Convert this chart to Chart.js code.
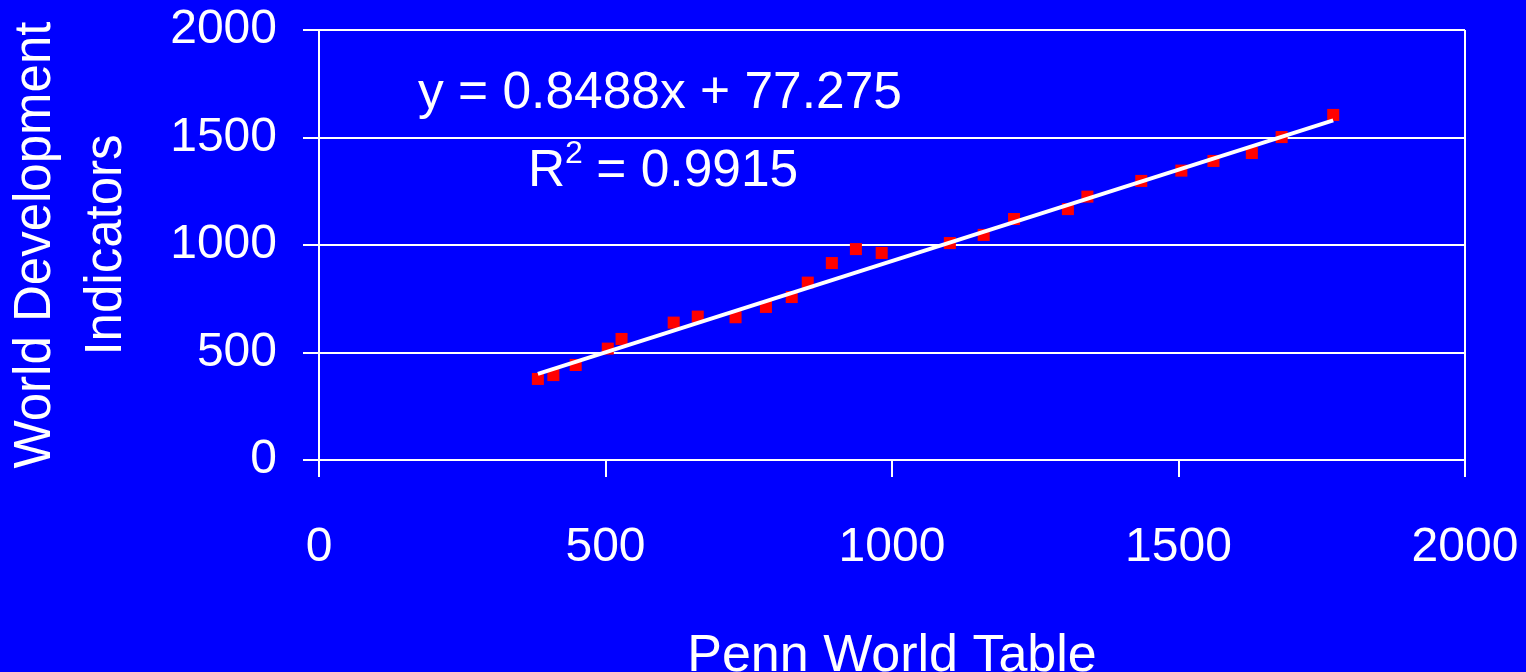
<!DOCTYPE html>
<html>
<head>
<meta charset="utf-8">
<title>Penn World Table vs World Development Indicators</title>
<script src="https://cdn.jsdelivr.net/npm/chart.js@4.4.1/dist/chart.umd.min.js"></script>
<style>
    body { margin: 0; background: #0000ff; }
    canvas { display: block; }
</style>
</head>
<body>
<canvas id="scatterChart" width="1526" height="672"></canvas>
<script>
// Data
const pwtValues = [382, 409, 448, 504, 528, 619, 661, 727, 780, 825, 853, 895, 937, 982,
    1101, 1160, 1213, 1307, 1341, 1435, 1505, 1561, 1628, 1680, 1770];
const wdiValues = [377, 395, 442, 518, 563, 639, 667, 664, 712, 758, 825, 916, 981, 963,
    1009, 1047, 1121, 1167, 1225, 1298, 1346, 1391, 1428, 1502, 1605];

// trend line ends, as drawn
const trendX = [382, 1770];
const trendY = [401, 1580];

const xTicks = [0, 500, 1000, 1500, 2000];
const yTicks = [0, 500, 1000, 1500, 2000];

const equationText = 'y = 0.8488x + 77.275';
const rSquaredText = ' = 0.9915';

const fontFamily = '"Liberation Sans", Arial, sans-serif';
const white = '#ffffff';

const points = pwtValues.map((x, i) => ({ x: x, y: wdiValues[i] }));
const trendPoints = trendX.map((x, i) => ({ x: x, y: trendY[i] }));

// Draws the equation and R squared text on the plot
const equationPlugin = {
    id: 'equationText',
    afterDatasetsDraw(chart) {
        const ctx = chart.ctx;
        ctx.save();
        ctx.fillStyle = white;
        ctx.textAlign = 'left';
        ctx.textBaseline = 'alphabetic';
        ctx.font = '51.5px ' + fontFamily;
        ctx.fillText(equationText, 418, 108);

        ctx.fillText('R', 528, 186);
        ctx.font = '32px ' + fontFamily;
        ctx.fillText('2', 565, 163);
        ctx.font = '51.5px ' + fontFamily;
        ctx.fillText(rSquaredText, 582, 186);
        ctx.restore();
    }
};

const ctx = document.getElementById('scatterChart').getContext('2d');
const scatterChart = new Chart(ctx, {
    type: 'scatter',
    data: {
        datasets: [{
            label: 'Trend',
            data: trendPoints,
            showLine: true,
            borderColor: white,
            borderWidth: 4,
            pointRadius: 0,
            fill: false
        }, {
            label: 'Countries',
            data: points,
            pointStyle: 'rect',
            pointRadius: 8.5,
            pointBackgroundColor: '#ff0000',
            pointBorderWidth: 0,
            borderWidth: 0
        }]
    },
    options: {
        responsive: false,
        animation: false,
        layout: {
            padding: { top: 30, right: 61, left: 0, bottom: 0 }
        },
        plugins: {
            legend: { display: false },
            tooltip: { enabled: false }
        },
        scales: {
            x: {
                type: 'linear',
                min: 0,
                max: 2000,
                afterBuildTicks: scale => { scale.ticks = xTicks.map(v => ({ value: v })); },
                afterFit: scale => {
                    scale.height = 212;
                    scale.paddingLeft = 0;
                    scale.paddingRight = 0;
                },
                grid: {
                    color: c => (c.tick && (c.tick.value === 0 || c.tick.value === 2000)) ? white : 'rgba(0,0,0,0)',
                    tickColor: white,
                    lineWidth: 2,
                    tickLength: 17
                },
                border: { color: white, width: 2 },
                ticks: {
                    color: white,
                    padding: 42,
                    maxRotation: 0,
                    callback: v => String(v),
                    font: { family: fontFamily, size: 48 }
                },
                title: {
                    display: true,
                    text: 'Penn World Table',
                    color: white,
                    padding: 0,
                    font: { family: fontFamily, size: 52, lineHeight: '31px' }
                }
            },
            y: {
                min: 0,
                max: 2000,
                afterBuildTicks: scale => { scale.ticks = yTicks.map(v => ({ value: v })); },
                afterFit: scale => {
                    scale.width = 319;
                    scale.paddingTop = 0;
                    scale.paddingBottom = 0;
                },
                grid: {
                    color: white,
                    tickColor: white,
                    lineWidth: 2,
                    tickLength: 16
                },
                border: { color: white, width: 2 },
                ticks: {
                    color: white,
                    padding: 26,
                    callback: v => String(v),
                    font: { family: fontFamily, size: 48 }
                },
                title: {
                    display: true,
                    text: ['World Development', 'Indicators'],
                    color: white,
                    padding: 0,
                    font: { family: fontFamily, size: 51, lineHeight: 1.4 }
                }
            }
        }
    },
    plugins: [equationPlugin]
});
</script>
</body>
</html>
